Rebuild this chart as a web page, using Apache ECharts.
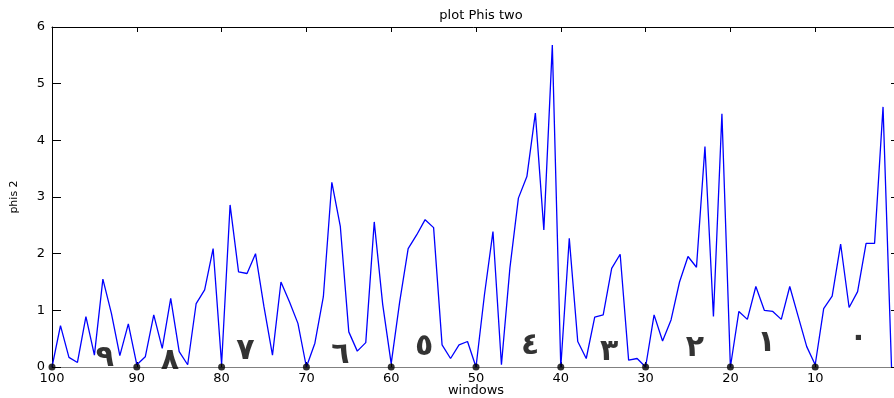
<!DOCTYPE html>
<html>
<head>
<meta charset="utf-8">
<script src="https://cdn.jsdelivr.net/npm/echarts@6/dist/echarts.min.js"></script>
<style>
html,body{margin:0;padding:0;background:#fff;}
#chart{width:894px;height:398px;}
</style>
</head>
<body>
<div id="chart"></div>
<script>
// windows (x), from 100 down to 1
var windows = [100,99,98,97,96,95,94,93,92,91,90,89,88,87,86,85,84,83,82,81,
               80,79,78,77,76,75,74,73,72,71,70,69,68,67,66,65,64,63,62,61,
               60,59,58,57,56,55,54,53,52,51,50,49,48,47,46,45,44,43,42,41,
               40,39,38,37,36,35,34,33,32,31,30,29,28,27,26,25,24,23,22,21,
               20,19,18,17,16,15,14,13,12,11,10,9,8,7,6,5,4,3,2,1];
// phis 2 values, same order as windows
var phis2 = [0,0.73,0.17,0.08,0.89,0.21,1.55,0.95,0.2,0.76,
             0.04,0.18,0.92,0.33,1.21,0.27,0.04,1.12,1.36,2.09,
             0.05,2.86,1.68,1.65,2.0,1.06,0.21,1.5,1.15,0.77,
             0.0,0.42,1.24,3.26,2.48,0.62,0.28,0.43,2.56,1.1,
             0.06,1.15,2.09,2.33,2.6,2.46,0.39,0.15,0.39,0.45,
             0.0,1.28,2.39,0.04,1.75,2.98,3.36,4.48,2.42,5.68,
             0.0,2.27,0.45,0.15,0.88,0.92,1.74,1.99,0.12,0.15,
             0.0,0.92,0.46,0.83,1.5,1.95,1.76,3.89,0.89,4.47,
             0.0,0.98,0.84,1.42,1.0,0.98,0.84,1.42,0.89,0.36,
             0.04,1.03,1.25,2.17,1.05,1.33,2.18,2.18,4.59,0.0];
// black marker dots on the x axis
var dotWindows = [100,90,80,70,60,50,40,30,20,10];
var dotValues  = [0,0,0,0,0,0,0,0,0,0];
// hand-written annotations
var annoText = ['٩','٨','٧','٦','٥','٤','٣','٢','١','٠'];
var annoX    = [93.75,86.1,77.2,66.0,56.1,43.6,34.3,24.2,15.75,4.9];
var annoY    = [0.16,0.10,0.28,0.21,0.35,0.37,0.26,0.34,0.42,0.51];
// ticks
var xTicks = [0,10,20,30,40,50,60,70,80,90,100];
var yTicks = [0,1,2,3,4,5,6];

var lineData = windows.map(function(w,i){return [w, phis2[i]];});
var dotData = dotWindows.map(function(w,i){return [w, dotValues[i]];});
var annoData = annoX.map(function(x,i){return {value:[x, annoY[i]], name: annoText[i]};});

var FONT = 'DejaVu Sans';
var chart = echarts.init(document.getElementById('chart'), null, {renderer:'canvas'});
var xMin = xTicks[0], xMax = xTicks[xTicks.length-1], xInt = xTicks[1]-xTicks[0];
var yMin = yTicks[0], yMax = yTicks[yTicks.length-1], yInt = yTicks[1]-yTicks[0];

chart.setOption({
  animation:false,
  backgroundColor:'#ffffff',
  title:{
    text:'plot Phis two', left:476, textAlign:'center', top:4,
    textStyle:{fontFamily:FONT, fontSize:13, fontWeight:'normal', color:'#000'}
  },
  grid:{left:52, right:-6, top:27, bottom:31, containLabel:false, outerBoundsMode:'none'},
  xAxis:[{
    type:'value', min:xMin, max:xMax, interval:xInt, inverse:true,
    name:'windows', nameLocation:'middle', nameGap:17, nameMoveOverlap:false,
    nameTextStyle:{fontFamily:FONT, fontSize:13, color:'#000'},
    axisLine:{show:true, onZero:false, lineStyle:{color:'#808080', width:1}},
    axisTick:{show:true, inside:true, length:5, lineStyle:{color:'#000'}},
    axisLabel:{fontFamily:FONT, fontSize:13, color:'#000', margin:5},
    splitLine:{show:false}
  },{
    type:'value', min:xMin, max:xMax, interval:xInt, inverse:true, position:'top',
    axisLine:{show:true, onZero:false, lineStyle:{color:'#000', width:1}},
    axisTick:{show:true, inside:true, length:5, lineStyle:{color:'#000'}},
    axisLabel:{show:false}, splitLine:{show:false}
  }],
  yAxis:[{
    type:'value', min:yMin, max:yMax, interval:yInt,
    name:'phis 2', nameLocation:'middle', nameGap:32, nameMoveOverlap:false,
    nameTextStyle:{fontFamily:FONT, fontSize:11, color:'#000'},
    axisLine:{show:true, onZero:false, lineStyle:{color:'#000', width:1}},
    axisTick:{show:true, inside:true, length:9, lineStyle:{color:'#000'}},
    axisLabel:{fontFamily:FONT, fontSize:13, color:'#000', margin:7},
    splitLine:{show:false}
  },{
    type:'value', min:yMin, max:yMax, interval:yInt, position:'right',
    axisLine:{show:true, onZero:false, lineStyle:{color:'#000', width:1}},
    axisTick:{show:true, inside:true, length:9, lineStyle:{color:'#000'}},
    axisLabel:{show:false}, splitLine:{show:false}
  }],
  series:[{
    type:'line', data:lineData, showSymbol:false, symbol:'none',
    lineStyle:{color:'#0000ff', width:1.3}, z:2
  },{
    type:'scatter', data:dotData, symbol:'circle', symbolSize:7,
    itemStyle:{color:'#000'}, z:4
  },{
    type:'scatter', data:annoData, symbolSize:0, z:5,
    itemStyle:{color:'#000'},
    label:{show:true, position:'inside',
      formatter:function(p){return p.name;},
      fontFamily:FONT, fontSize:30, fontWeight:'bold', color:'#000',
      textBorderWidth:0, textBorderColor:'transparent'}
  }]
});
</script>
</body>
</html>
